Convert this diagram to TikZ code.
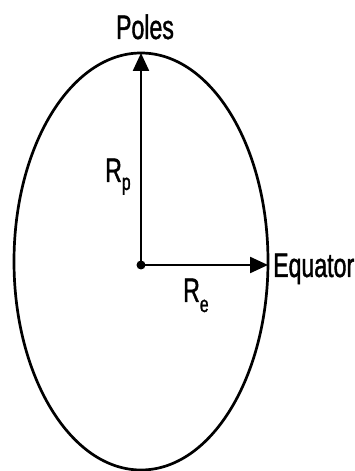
\documentclass[tikz,border=0pt]{standalone}
\usepackage{fontspec}
\setmainfont[FakeStretch=0.68,FakeBold=1.2]{Liberation Sans}
\usetikzlibrary{arrows.meta}
\begin{document}
\begin{tikzpicture}[x=1pt,y=1pt,
  lbl/.style={inner sep=0pt, font=\fontsize{34}{40}\selectfont},
  vec/.style={line width=2.3pt, -{Triangle[length=18pt,width=16pt]}},
  outline/.style={line width=2.7pt}]
\useasboundingbox (0,0) rectangle (355,471);
\coordinate (mid) at (141,209.5);
\coordinate (c) at (141,206);
\coordinate (pole) at (141,418);
\coordinate (eq) at (268,206);
\draw[outline] (mid) ellipse [x radius=127, y radius=208.5];
\draw[vec] (c) -- (pole);
\draw[vec] (c) -- (eq);
\fill (c) circle (4.5);
\node[lbl, anchor=base] (poles) at (145,432) {Poles};
\node[lbl, anchor=base west] (equator) at (273,194) {Equator};
\node[lbl, anchor=base west] (rp) at (105,289) {R\raisebox{-8pt}{\fontsize{23}{24}\selectfont p}};
\node[lbl, anchor=base west] (re) at (183,169) {R\raisebox{-10pt}{\fontsize{23}{24}\selectfont e}};
\end{tikzpicture}
\end{document}
